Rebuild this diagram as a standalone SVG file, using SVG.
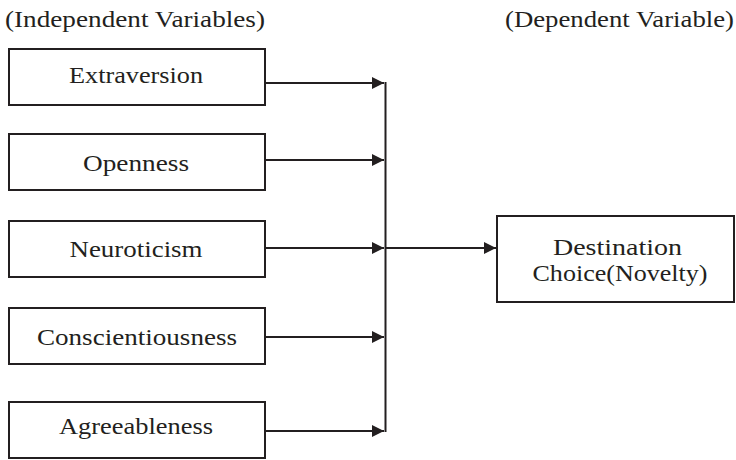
<svg xmlns="http://www.w3.org/2000/svg" width="736" height="460" viewBox="0 0 736 460">
  <style>
    .box { fill: #ffffff; stroke: #231f20; stroke-width: 2; }
    .lbl { font-family: "Liberation Serif", "Times New Roman", serif; font-size: 24px; fill: #231f20; text-anchor: middle; }
    .dst { font-size: 23px; }
    .hdr { font-family: "Liberation Serif", "Times New Roman", serif; font-size: 24px; fill: #231f20; }
    .conn { stroke: #231f20; stroke-width: 2; fill: none; }
  </style>
  <defs>
    <marker id="arrow" markerUnits="userSpaceOnUse" markerWidth="13" markerHeight="13" refX="12" refY="6" orient="auto">
      <path d="M0,0 L12,6 L0,12 z" fill="#231f20"/>
    </marker>
  </defs>
  <rect width="736" height="460" fill="#ffffff"/>

  <g id="headers">
    <text class="hdr" x="5" y="27" textLength="260" lengthAdjust="spacingAndGlyphs">(Independent Variables)</text>
    <text class="hdr" x="505" y="27" textLength="229" lengthAdjust="spacingAndGlyphs">(Dependent Variable)</text>
  </g>

  <g id="connectors">
    <line class="conn" x1="265" y1="83" x2="384" y2="83" marker-end="url(#arrow)"/>
    <line class="conn" x1="265" y1="160" x2="384" y2="160" marker-end="url(#arrow)"/>
    <line class="conn" x1="265" y1="248" x2="384" y2="248" marker-end="url(#arrow)"/>
    <line class="conn" x1="265" y1="337" x2="384" y2="337" marker-end="url(#arrow)"/>
    <line class="conn" x1="265" y1="431" x2="384" y2="431" marker-end="url(#arrow)"/>
    <line class="conn" x1="385.5" y1="82" x2="385.5" y2="432"/>
    <line class="conn" x1="386" y1="248" x2="496" y2="248" marker-end="url(#arrow)"/>
  </g>

  <g id="extraversion">
    <rect class="box" x="9" y="49" width="256" height="56"/>
    <text class="lbl" x="136" y="83" textLength="134" lengthAdjust="spacingAndGlyphs">Extraversion</text>
  </g>
  <g id="openness">
    <rect class="box" x="9" y="134" width="256" height="56"/>
    <text class="lbl" x="136" y="171" textLength="106" lengthAdjust="spacingAndGlyphs">Openness</text>
  </g>
  <g id="neuroticism">
    <rect class="box" x="9" y="221" width="256" height="56"/>
    <text class="lbl" x="136" y="257" textLength="133" lengthAdjust="spacingAndGlyphs">Neuroticism</text>
  </g>
  <g id="conscientiousness">
    <rect class="box" x="9" y="308" width="256" height="56"/>
    <text class="lbl" x="137" y="345" textLength="200" lengthAdjust="spacingAndGlyphs">Conscientiousness</text>
  </g>
  <g id="agreeableness">
    <rect class="box" x="9" y="402" width="256" height="56"/>
    <text class="lbl" x="136" y="434" textLength="154" lengthAdjust="spacingAndGlyphs">Agreeableness</text>
  </g>
  <g id="destination">
    <rect class="box" x="497" y="216" width="237" height="86"/>
    <text class="lbl dst" x="617.5" y="255" textLength="129" lengthAdjust="spacingAndGlyphs">Destination</text>
    <text class="lbl dst" x="620" y="281" textLength="175" lengthAdjust="spacingAndGlyphs">Choice(Novelty)</text>
  </g>
</svg>
